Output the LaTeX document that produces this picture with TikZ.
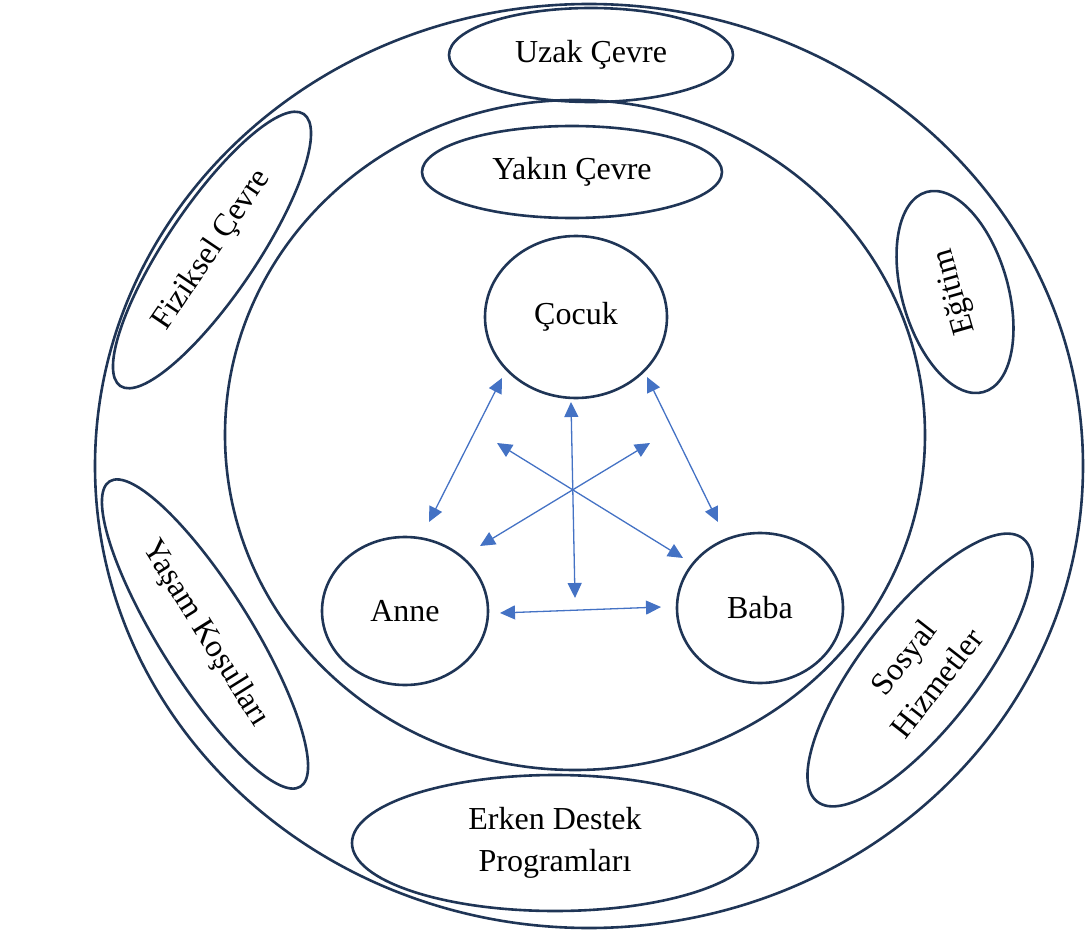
\documentclass[tikz,border=0pt]{standalone}
\usepackage{fontspec}
\setmainfont{Liberation Serif}
\usetikzlibrary{shapes.geometric,arrows.meta}
\definecolor{navy}{HTML}{1F3556}
\definecolor{arrblue}{HTML}{4472C4}
\tikzset{
  ring/.style={ellipse, draw=navy, line width=2.6pt, inner sep=0pt, outer sep=0pt, font=\fontsize{32}{42}\selectfont, text=black},
  link/.style={draw=arrblue, line width=1.3pt, {Triangle[length=15pt,width=14pt]}-{Triangle[length=15pt,width=14pt]}}
}
\begin{document}
\begin{tikzpicture}[x=1pt,y=-1pt]
\useasboundingbox (0,0) rectangle (1085,931);
% outer and inner environments
\node[ring, minimum width=988pt, minimum height=924pt] (outer) at (589,466) {};
\node[ring, minimum width=700pt, minimum height=670pt] (inner) at (575,435) {};
% labels of environments
\node[ring, minimum width=284pt, minimum height=94pt] (uzak) at (591,55) {Uzak Çevre};
\node[ring, minimum width=300pt, minimum height=92pt] (yakin) at (572,172) {Yakın Çevre};
% outer ring items
\node[ring, minimum width=328pt, minimum height=90pt, rotate=56] (fiz) at (212,250) {Fiziksel Çevre};
\node[ring, minimum width=208pt, minimum height=106pt, rotate=106] (egitim) at (955,292) {Eğitim};
\node[ring, minimum width=360pt, minimum height=92pt, rotate=-58] (yasam) at (205,634) {Yaşam Koşulları};
\node[ring, minimum width=334pt, minimum height=116pt, rotate=52, align=center] (sosyal) at (920,670) {Sosyal\\Hizmetler};
\node[ring, minimum width=406pt, minimum height=136pt, align=center] (erken) at (555,843) {Erken Destek\\Programları};
% family
\node[ring, minimum width=182pt, minimum height=162pt] (cocuk) at (576,317) {Çocuk};
\node[ring, minimum width=166pt, minimum height=148pt] (anne) at (405,611) {Anne};
\node[ring, minimum width=166pt, minimum height=150pt] (baba) at (760,608) {Baba};
% arrow ends
\coordinate (cA) at (502,378);
\coordinate (aC) at (429,522);
\coordinate (cB) at (647,377);
\coordinate (bC) at (718,522);
\coordinate (cD) at (571,402);
\coordinate (dC) at (575,598);
\coordinate (nw) at (497,443);
\coordinate (se) at (683,558);
\coordinate (ne) at (650,443);
\coordinate (sw) at (480,546);
\coordinate (aB) at (500,613);
\coordinate (bA) at (661,607);
\draw[link] (cA) -- (aC);
\draw[link] (cB) -- (bC);
\draw[link] (cD) -- (dC);
\draw[link] (nw) -- (se);
\draw[link] (ne) -- (sw);
\draw[link] (aB) -- (bA);
\end{tikzpicture}
\end{document}
